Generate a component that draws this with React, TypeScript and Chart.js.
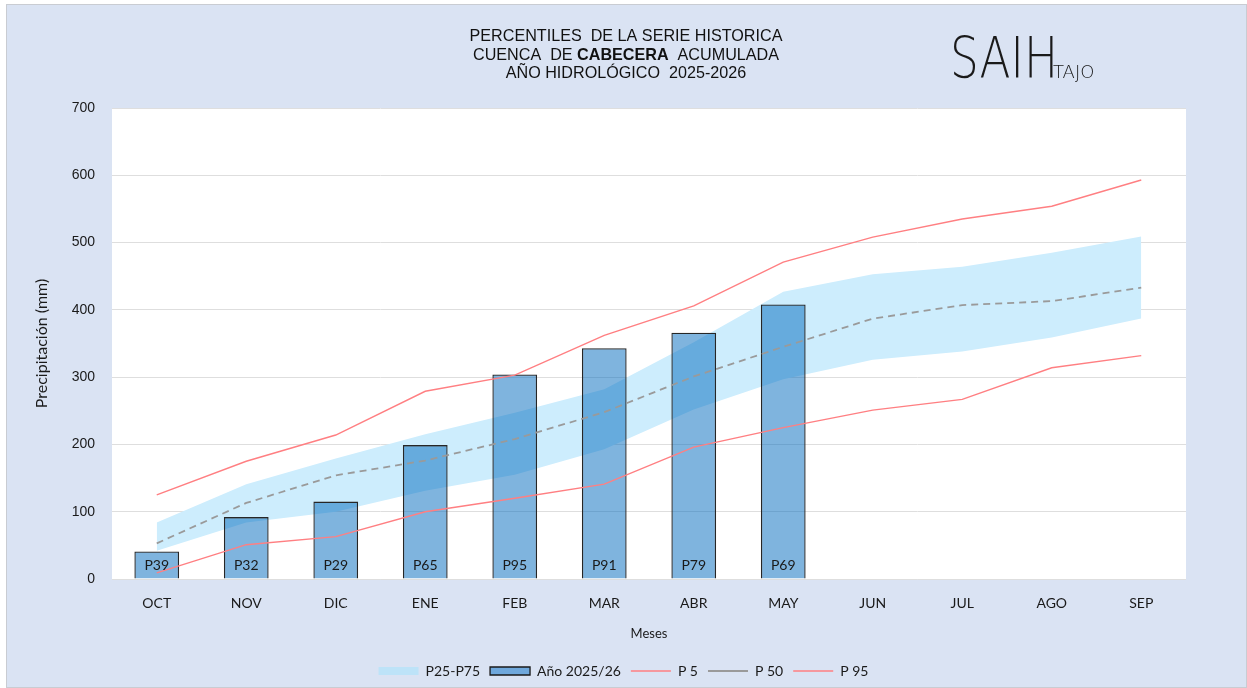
import React, { useEffect, useRef } from "react";
import { Chart, registerables } from "chart.js";

Chart.register(...registerables);

const months = ["OCT", "NOV", "DIC", "ENE", "FEB", "MAR", "ABR", "MAY", "JUN", "JUL", "AGO", "SEP"];
const actual = [41, 92, 115, 199, 304, 343, 366, 408];
const actualPercentiles = ["P39", "P32", "P29", "P65", "P95", "P91", "P79", "P69"];
const p5 = [9, 51, 63, 100, 120, 141, 196, 225, 251, 267, 314, 332];
const p25 = [42, 84, 100, 131, 155, 193, 252, 297, 326, 338, 359, 387];
const p50 = [53, 113, 154, 176, 208, 248, 301, 345, 387, 407, 413, 433];
const p75 = [84, 141, 179, 215, 247, 282, 352, 427, 453, 464, 485, 509];
const p95 = [125, 175, 214, 279, 303, 362, 406, 471, 508, 535, 554, 593];
const yTicks = [0, 100, 200, 300, 400, 500, 600, 700];

const titleLines = [
  [{ t: "PERCENTILES  DE LA SERIE HISTORICA", b: false }],
  [
    { t: "CUENCA  DE ", b: false },
    { t: "CABECERA", b: true },
    { t: "  ACUMULADA", b: false },
  ],
  [{ t: "AÑO HIDROLÓGICO  2025-2026", b: false }],
];
const logoMain = "SAIH";
const logoSub = "TAJO";

const LABEL_FONT = "Lato, 'Open Sans', sans-serif";
const ARIAL = "'Liberation Sans', Arial, sans-serif";

const backgroundPlugin = {
  id: "bgPanel",
  beforeDraw(chart: any) {
    const { ctx, width, height, chartArea } = chart;
    ctx.save();
    ctx.fillStyle = "#ffffff";
    ctx.fillRect(0, 0, width, height);
    ctx.fillStyle = "#dae3f3";
    ctx.fillRect(6, 4, width - 6, height - 4);
    ctx.strokeStyle = "#c9ccd2";
    ctx.lineWidth = 1;
    ctx.strokeRect(6.5, 4.5, width - 7, height - 5);
    ctx.fillStyle = "#ffffff";
    ctx.fillRect(chartArea.left, chartArea.top, chartArea.right - chartArea.left, chartArea.bottom - chartArea.top);
    ctx.restore();
  },
};

const titlePlugin = {
  id: "titleLogo",
  afterDraw(chart: any) {
    const { ctx } = chart;
    ctx.save();
    ctx.fillStyle = "#111111";
    ctx.textBaseline = "alphabetic";
    const baselines = [41, 60, 78];
    const cx = 626;
    const sx = 0.95;
    titleLines.forEach((segs, i) => {
      let total = 0;
      const widths = segs.map((s) => {
        ctx.font = `${s.b ? "bold " : ""}17px ${ARIAL}`;
        const w = ctx.measureText(s.t).width;
        total += w;
        return w;
      });
      ctx.save();
      ctx.translate(cx - (total * sx) / 2, baselines[i]);
      ctx.scale(sx, 1);
      let x = 0;
      segs.forEach((s, j) => {
        ctx.font = `${s.b ? "bold " : ""}17px ${ARIAL}`;
        ctx.textAlign = "left";
        ctx.fillText(s.t, x, 0);
        x += widths[j];
      });
      ctx.restore();
    });
    // logo
    ctx.fillStyle = "#1a1a1a";
    ctx.textAlign = "left";
    ctx.font = `200 57px 'DejaVu Sans', ${ARIAL}`;
    ctx.fillText(logoMain, 950, 78, 108);
    ctx.font = `200 18px 'DejaVu Sans', ${ARIAL}`;
    ctx.fillText(logoSub, 1053, 78, 44);
    ctx.restore();
  },
};

const barLabelPlugin = {
  id: "barLabels",
  afterDatasetsDraw(chart: any) {
    const { ctx } = chart;
    const idx = chart.data.datasets.findIndex((d: any) => d.type === "bar");
    const meta = chart.getDatasetMeta(idx);
    const yScale = chart.scales.y;
    ctx.save();
    ctx.font = `14px ${LABEL_FONT}`;
    ctx.fillStyle = "#1a1a1a";
    ctx.textAlign = "center";
    ctx.textBaseline = "middle";
    meta.data.forEach((bar: any, i: number) => {
      ctx.fillText(actualPercentiles[i], bar.x, yScale.getPixelForValue(0) - 14);
    });
    ctx.restore();
  },
};

export default function App() {
  const ref = useRef<HTMLCanvasElement>(null);
  useEffect(() => {
    if (!ref.current) return;
    const chart = new Chart(ref.current, {
      data: {
        labels: months,
        datasets: [
          {
            type: "line",
            label: "P25-P75",
            data: p75,
            borderWidth: 0,
            borderColor: "rgba(0,0,0,0)",
            backgroundColor: "#cdedfd",
            pointRadius: 0,
            fill: "+1",
            order: 5,
          },
          {
            type: "line",
            label: "p25",
            data: p25,
            borderWidth: 0,
            borderColor: "rgba(0,0,0,0)",
            backgroundColor: "#cdedfd",
            pointRadius: 0,
            fill: false,
            order: 4,
          },
          {
            type: "bar",
            label: "Año 2025/26",
            data: actual,
            backgroundColor: "rgba(0,105,190,0.5)",
            borderColor: "#262626",
            borderWidth: 1.3,
            barPercentage: 0.5,
            categoryPercentage: 1,
            order: 3,
          },
          {
            type: "line",
            label: "P 5",
            data: p5,
            borderColor: "#ff7f82",
            backgroundColor: "#ff7f82",
            borderWidth: 1.4,
            pointRadius: 0,
            fill: false,
            order: 2,
          },
          {
            type: "line",
            label: "P 50",
            data: p50,
            borderColor: "#9a9a9a",
            backgroundColor: "#9a9a9a",
            borderWidth: 1.8,
            borderDash: [7, 5],
            pointRadius: 0,
            fill: false,
            order: 1,
          },
          {
            type: "line",
            label: "P 95",
            data: p95,
            borderColor: "#ff7f82",
            backgroundColor: "#ff7f82",
            borderWidth: 1.4,
            pointRadius: 0,
            fill: false,
            order: 0,
          },
        ],
      } as any,
      options: {
        responsive: false,
        animation: false,
        layout: { padding: { left: 0, right: 0, top: 108, bottom: 0 } },
        plugins: {
          title: { display: false },
          tooltip: { enabled: false },
          legend: {
            display: true,
            position: "bottom",
            labels: {
              usePointStyle: true,
              pointStyleWidth: 40,
              boxHeight: 8,
              padding: 10,
              color: "#1a1a1a",
              font: { family: LABEL_FONT, size: 14 },
              filter: (item: any) => item.text !== "p25",
              sort: (a: any, b: any) => a.datasetIndex - b.datasetIndex,
              generateLabels: (chart: any) => {
                const items = Chart.defaults.plugins.legend.labels.generateLabels(chart);
                return items.map((it: any) => {
                  const ds = chart.data.datasets[it.datasetIndex];
                  if (ds.type === "bar") {
                    it.pointStyle = "rect";
                    it.fillStyle = "#6fa8dc";
                    it.strokeStyle = "#1a1a1a";
                    it.lineWidth = 1.3;
                  } else if (ds.label === "P25-P75") {
                    it.pointStyle = "rect";
                    it.fillStyle = "#bde3f8";
                    it.lineWidth = 0;
                  } else {
                    it.pointStyle = "line";
                    it.lineWidth = ds.borderWidth;
                  }
                  return it;
                });
              },
            },
          },
        },
        scales: {
          x: {
            grid: { display: false },
            border: { display: false },
            ticks: { color: "#1a1a1a", font: { family: LABEL_FONT, size: 14 }, padding: 8 },
            title: {
              display: true,
              text: "Meses",
              color: "#1a1a1a",
              font: { family: LABEL_FONT, size: 13 },
              padding: { top: 0, bottom: 12 },
            },
            afterFit: (s: any) => {
              s.height = 75;
            },
          },
          y: {
            min: 0,
            max: 700,
            afterBuildTicks: (s: any) => {
              s.ticks = yTicks.map((v) => ({ value: v }));
            },
            grid: { color: "#dedede", drawTicks: false, lineWidth: 1 },
            border: { display: false },
            ticks: { color: "#1a1a1a", font: { family: ARIAL, size: 14 }, padding: 17 },
            title: {
              display: true,
              text: "Precipitación (mm)",
              color: "#1a1a1a",
              font: { family: LABEL_FONT, size: 16 },
              padding: { top: 32, bottom: 0 },
            },
            afterFit: (s: any) => {
              s.width = 112;
            },
          },
          yRight: {
            position: "right",
            display: true,
            grid: { display: false, drawTicks: false },
            border: { display: false },
            ticks: { display: false },
            afterFit: (s: any) => {
              s.width = 61;
            },
          },
        },
      } as any,
      plugins: [backgroundPlugin, titlePlugin, barLabelPlugin],
    });
    return () => chart.destroy();
  }, []);
  return (
    <div style={{ position: "absolute", left: 0, top: 0, width: 1247, height: 688 }}>
      <canvas ref={ref} width={1247} height={688} />
    </div>
  );
}
